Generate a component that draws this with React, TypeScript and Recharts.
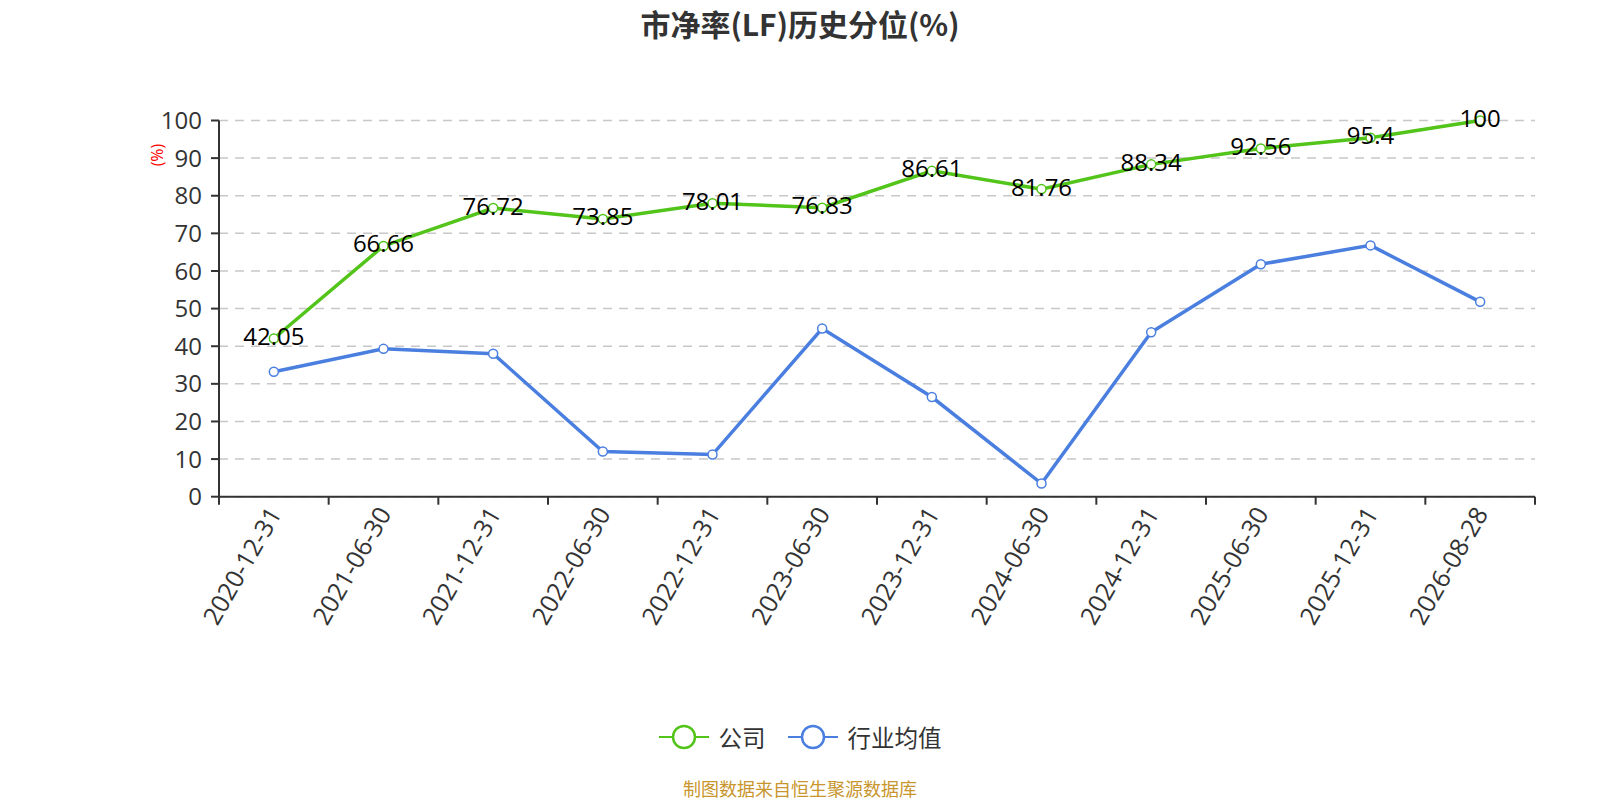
import React from 'react';
import { LineChart, Line, XAxis, YAxis, CartesianGrid, LabelList, Legend } from 'recharts';

const categories = [
  '2020-12-31', '2021-06-30', '2021-12-31', '2022-06-30', '2022-12-31', '2023-06-30',
  '2023-12-31', '2024-06-30', '2024-12-31', '2025-06-30', '2025-12-31', '2026-08-28',
];
const companyValues = [42.05, 66.66, 76.72, 73.85, 78.01, 76.83, 86.61, 81.76, 88.34, 92.56, 95.4, 100];
const industryValues = [33.2, 39.3, 38.0, 12.0, 11.2, 44.7, 26.5, 3.5, 43.7, 61.8, 66.8, 51.8];
const yTicks = [0, 10, 20, 30, 40, 50, 60, 70, 80, 90, 100];

const seriesNames = { company: '公司', industry: '行业均值' };
const titleText = '市净率(LF)历史分位(%)';
const yAxisName = '(%)';
const footerText = '制图数据来自恒生聚源数据库';

const data = categories.map((c, i) => ({
  date: c,
  company: companyValues[i],
  industry: industryValues[i],
}));

const W = 1600;
const H = 800;
const PLOT_LEFT = 219;
const PLOT_RIGHT = 1535;
const PLOT_TOP = 120.5;
const PLOT_BOTTOM = 496.7;
const Y_AXIS_W = 60;
const X_AXIS_H = 120;
const BAND = (PLOT_RIGHT - PLOT_LEFT) / categories.length;

const GREEN = '#52c41a';
const BLUE = '#4a7fe0';
const FONT = "'Noto Sans CJK SC', 'Noto Sans', sans-serif";
const NUM_FONT = "'Open Sans', 'Noto Sans CJK SC', sans-serif";

const XTick = (props: any) => {
  const { x, y, payload, index } = props;
  const isLast = index === categories.length - 1;
  return (
    <g>
      <line x1={x - BAND / 2} y1={y} x2={x - BAND / 2} y2={y + 8} stroke="#333" strokeWidth={2} />
      {isLast && <line x1={x + BAND / 2} y1={y} x2={x + BAND / 2} y2={y + 8} stroke="#333" strokeWidth={2} />}
      <text
        x={x}
        y={y + 12}
        transform={`rotate(-60, ${x}, ${y + 12})`}
        textAnchor="end"
        dominantBaseline="central"
        fontSize={25}
        fill="#333"
        fontFamily={NUM_FONT}
      >
        {payload.value}
      </text>
    </g>
  );
};

const ValueLabel = (props: any) => {
  const { x, y, value } = props;
  return (
    <text x={x} y={y - 3} textAnchor="middle" dominantBaseline="central" fontSize={24} fill="#000" fontFamily={NUM_FONT}>
      {value}
    </text>
  );
};

const LegendContent = () => {
  const items = [
    { name: seriesNames.company, color: GREEN },
    { name: seriesNames.industry, color: BLUE },
  ];
  return (
    <div style={{ display: 'flex', justifyContent: 'center', alignItems: 'center', fontFamily: FONT }}>
      {items.map((it, i) => (
        <div key={i} style={{ display: 'flex', alignItems: 'center', marginRight: i === 0 ? 22 : 0 }}>
          <svg width={50} height={26}>
            <line x1={0} y1={13} x2={50} y2={13} stroke={it.color} strokeWidth={2} />
            <circle cx={25} cy={13} r={11} fill="#fff" stroke={it.color} strokeWidth={2.5} />
          </svg>
          <span style={{ marginLeft: 10, fontSize: 23.5, color: '#333', lineHeight: '26px' }}>{it.name}</span>
        </div>
      ))}
    </div>
  );
};

export default function App() {
  return (
    <div style={{ position: 'absolute', left: 0, top: 0, width: W, height: H, background: '#fff', fontFamily: FONT }}>
      <div
        style={{
          position: 'absolute', left: 0, top: 6, width: W, textAlign: 'center',
          fontSize: 30, fontWeight: 'bold', color: '#333', lineHeight: '34px',
        }}
      >
        {titleText}
      </div>
      <LineChart
        width={W}
        height={H}
        data={data}
        margin={{
          top: PLOT_TOP,
          right: W - PLOT_RIGHT,
          left: PLOT_LEFT - Y_AXIS_W,
          bottom: H - PLOT_BOTTOM - X_AXIS_H,
        }}
      >
        <CartesianGrid vertical={false} stroke="#c8c8c8" strokeDasharray="9 7" strokeWidth={1.5} />
        <XAxis
          dataKey="date"
          type="category"
          height={X_AXIS_H}
          padding={{ left: BAND / 2, right: BAND / 2 }}
          axisLine={{ stroke: '#333', strokeWidth: 2 }}
          tickLine={false}
          tickSize={0}
          tickMargin={0}
          interval={0}
          tick={<XTick />}
        />
        <YAxis
          type="number"
          domain={[0, 100]}
          ticks={yTicks}
          width={Y_AXIS_W}
          axisLine={{ stroke: '#333', strokeWidth: 2 }}
          tickLine={{ stroke: '#333', strokeWidth: 2 }}
          tickSize={8}
          tickMargin={9}
          tick={{ fontSize: 24, fill: '#333', fontFamily: NUM_FONT }}
          label={(p: any) => {
            const vb = p.viewBox || {};
            const cx = (vb.x ?? 159) - 2;
            const cy = (vb.y ?? 120) + 34.5;
            return (
              <text
                x={cx}
                y={cy}
                transform={`rotate(-90, ${cx}, ${cy})`}
                textAnchor="middle"
                dominantBaseline="central"
                fontSize={16}
                fill="#ff0000"
                fontFamily={NUM_FONT}
              >
                {yAxisName}
              </text>
            );
          }}
        />
        <Legend
          layout="horizontal"
          verticalAlign="middle"
          align="center"
          wrapperStyle={{ top: 724, left: 0, width: W }}
          content={<LegendContent />}
        />
        <Line
          type="linear"
          dataKey="company"
          name={seriesNames.company}
          stroke={GREEN}
          strokeWidth={3.5}
          dot={{ r: 4.5, fill: '#fff', stroke: GREEN, strokeWidth: 1.5 }}
          activeDot={false}
          isAnimationActive={false}
        >
          <LabelList dataKey="company" content={<ValueLabel />} />
        </Line>
        <Line
          type="linear"
          dataKey="industry"
          name={seriesNames.industry}
          stroke={BLUE}
          strokeWidth={3.5}
          dot={{ r: 4.5, fill: '#fff', stroke: BLUE, strokeWidth: 1.5 }}
          activeDot={false}
          isAnimationActive={false}
        />
      </LineChart>
      <div
        style={{
          position: 'absolute', left: 0, top: 776, width: W, textAlign: 'center',
          fontSize: 18, color: '#c8962d', lineHeight: '24px',
        }}
      >
        {footerText}
      </div>
    </div>
  );
}
